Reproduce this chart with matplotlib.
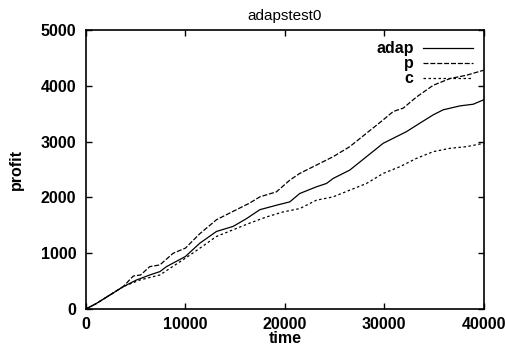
import matplotlib
matplotlib.use("Agg")
import matplotlib.pyplot as plt

plt.rcParams['font.family'] = ['Liberation Sans', 'DejaVu Sans']

t_p = [0, 1070, 2410, 3750, 4760, 5500, 6430, 7440, 8780, 10000, 11460, 13130, 14800, 16480,
       17490, 19160, 20500, 21500, 23180, 24860, 26530, 28210, 29890, 30900, 31900, 33240,
       34920, 36600, 38270, 40000]
p = [0, 100, 250, 400, 590, 610, 760, 790, 1000, 1090, 1350, 1600, 1750, 1900,
     2010, 2100, 2310, 2430, 2580, 2730, 2910, 3150, 3390, 3540, 3600, 3800,
     4010, 4130, 4190, 4280]

t_adap = [0, 1070, 2410, 3750, 5090, 6430, 7440, 8110, 10000, 11460, 13130, 14800, 16150,
          17490, 19160, 20500, 21500, 23180, 24190, 24860, 26530, 28210, 29890, 30900,
          32240, 33570, 34920, 35920, 37600, 38940, 40000]
adap = [0, 100, 250, 400, 520, 610, 670, 760, 940, 1180, 1390, 1480, 1620,
        1780, 1860, 1920, 2070, 2190, 2250, 2340, 2490, 2730, 2970, 3060,
        3180, 3330, 3480, 3570, 3640, 3670, 3750]

t_c = [0, 1070, 2410, 3750, 5430, 7440, 10000, 11460, 13130, 14800, 16480, 18160, 19830,
       21500, 23180, 24860, 26530, 28210, 29890, 31560, 33240, 34920, 36600, 38270, 40000]
c = [0, 100, 250, 400, 520, 610, 910, 1090, 1300, 1420, 1540, 1650, 1740,
     1800, 1950, 2010, 2130, 2250, 2430, 2550, 2700, 2820, 2880, 2910, 2970]

xticks = [0, 10000, 20000, 30000, 40000]
yticks = [0, 1000, 2000, 3000, 4000, 5000]

FS = 11.5

fig = plt.figure(figsize=(5.05, 3.49), dpi=100)
ax = fig.add_axes([0.170, 0.1146, 0.788, 0.7994])

ax.plot(t_adap, adap, color='black', lw=0.9, ls='-', label='adap')
ax.plot(t_p, p, color='black', lw=0.9, ls=(0, (4, 1.5)), label='p')
ax.plot(t_c, c, color='black', lw=0.9, ls=(0, (2, 2)), label='c')

ax.set_xlim(0, 40000)
ax.set_ylim(0, 5000)
ax.set_xticks(xticks)
ax.set_yticks(yticks)
ax.set_xticklabels([str(v) for v in xticks], fontweight='bold', fontsize=FS)
ax.set_yticklabels([str(v) for v in yticks], fontweight='bold', fontsize=FS)
ax.tick_params(direction='in', length=4, width=1, top=True, right=True)
ax.tick_params(axis='x', pad=6)
ax.tick_params(axis='y', pad=7)
for s in ax.spines.values():
    s.set_linewidth(1.2)

ax.set_title('adapstest0', fontsize=11, pad=7)
ax.set_xlabel('time', fontweight='bold', fontsize=FS, labelpad=-1)
ax.set_ylabel('profit', fontweight='bold', fontsize=FS, labelpad=12)

leg = ax.legend(loc='upper right', frameon=False, markerfirst=False, handlelength=3.1,
                prop={'weight': 'bold', 'size': FS}, labelspacing=0.0,
                borderaxespad=0.4, handletextpad=0.6, borderpad=0.3)

fig.savefig('out.png', dpi=100)
